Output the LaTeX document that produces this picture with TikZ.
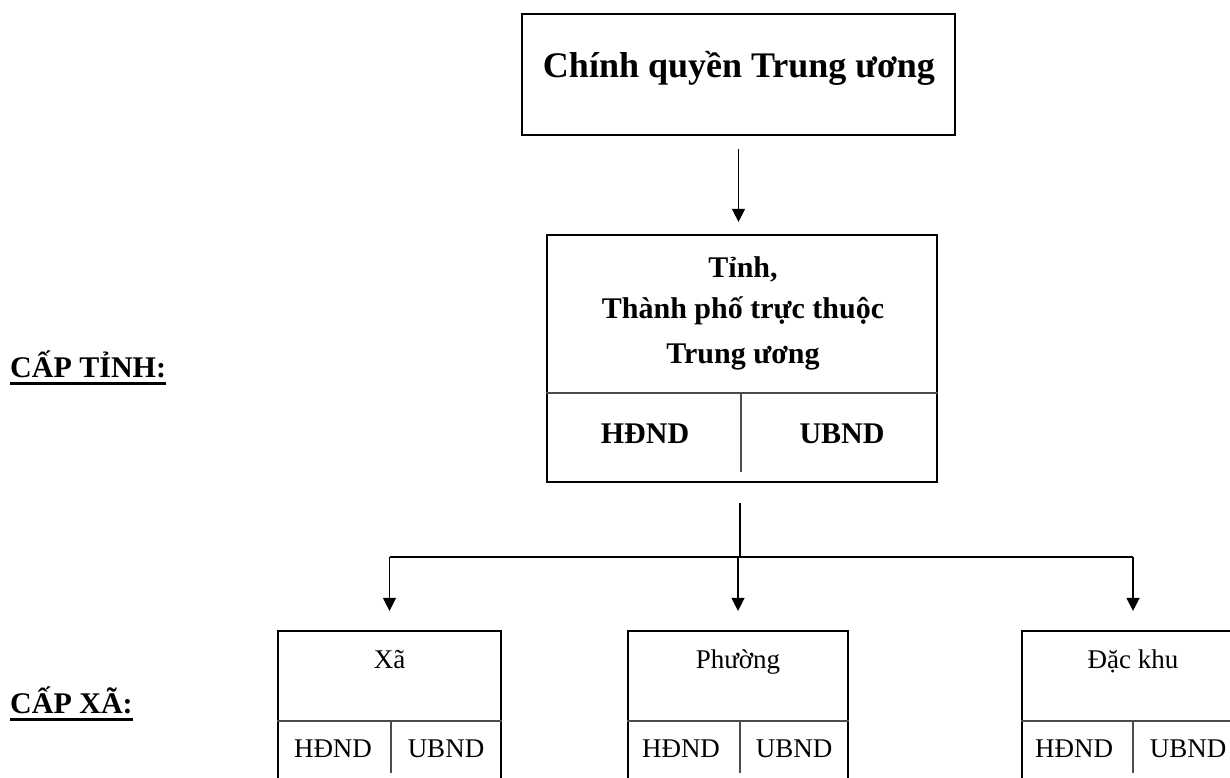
\documentclass[tikz,border=0pt]{standalone}
\usepackage{fontspec}
\setmainfont{Liberation Serif}
\usetikzlibrary{arrows.meta}

\begin{document}
\begin{tikzpicture}[x=1pt,y=-1pt,
		frame/.style={draw,line width=2.2pt,inner sep=0pt},
		divider/.style={draw=black!70,line width=1.5pt},
		arr/.style={line width=1.3pt,-{Triangle[length=13pt,width=13pt]}},
		big/.style={font=\bfseries\fontsize{36}{43}\selectfont,anchor=base},
		mid/.style={font=\bfseries\fontsize{30}{43}\selectfont,anchor=base},
		small/.style={font=\fontsize{27}{32}\selectfont,anchor=base},
		levelname/.style={font=\bfseries\fontsize{30}{36}\selectfont,anchor=base west,inner sep=0pt}]
		\useasboundingbox (0,0) rectangle (1230,778);
		\clip (0,0) rectangle (1230,778);
		
		\node[frame,minimum width=433,minimum height=121] (tw) at (738.5,74.5) {};
		\node[big] (twname) at (739,78) {Chính quyền Trung ương};
		
		\node[frame,minimum width=390,minimum height=247] (tinh) at (742,358.5) {};
		\draw[divider] (tinh.west |- 0,393) -- (tinh.east |- 0,393);
		\draw[divider] (741,393) -- (741,472);
		\node[mid] (tinhA) at (743,277) {Tỉnh,};
		\node[mid] (tinhB) at (743,318) {Thành phố trực thuộc};
		\node[mid] (tinhC) at (743,363) {Trung ương};
		\node[mid] (tinhH) at (645,443) {HĐND};
		\node[mid] (tinhU) at (842,443) {UBND};
		
		\foreach \n/\cx/\w/\vx/\hx/\ux/\lbl in {xa/389.5/223/391/333/446/Xã, phuong/738/220/740/681/794/Phường, dk/1133/222/1133/1074/1188/Đặc khu}{
			\node[frame,minimum width=\w,minimum height=152] (\n) at (\cx,707) {};
			\draw[divider] (\n.west |- 0,721) -- (\n.east |- 0,721);
			\draw[divider] (\vx,721) -- (\vx,773);
			\node[small] (\n-t) at (\cx,668) {\lbl};
			\node[small] (\n-h) at (\hx,757) {HĐND};
			\node[small] (\n-u) at (\ux,757) {UBND};
		}
		
		\node[levelname] (capTinh) at (10,377) {CẤP TỈNH:};
		\node[levelname] (capXa) at (10,713) {CẤP XÃ:};
		\foreach \n in {capTinh,capXa}{
			\draw[line width=2.6pt] ([yshift=-6.5pt]\n.base west) -- ([yshift=-6.5pt]\n.base east);
		}
		
		\coordinate (jn) at (740,557);
		\draw[arr,shorten <=13pt,shorten >=12pt] (tw.south) -- (tw.south |- tinh.north);
		\draw[line width=1.3pt,shorten <=20pt] (tinh.south -| jn) -- (jn);
		\draw[line width=1.3pt] (jn -| xa) -- (jn -| dk);
		\foreach \n in {xa,phuong,dk}{
			\draw[arr,shorten >=19pt] (jn -| \n.north) -- (\n.north);
		}
	\end{tikzpicture}
\end{document}
